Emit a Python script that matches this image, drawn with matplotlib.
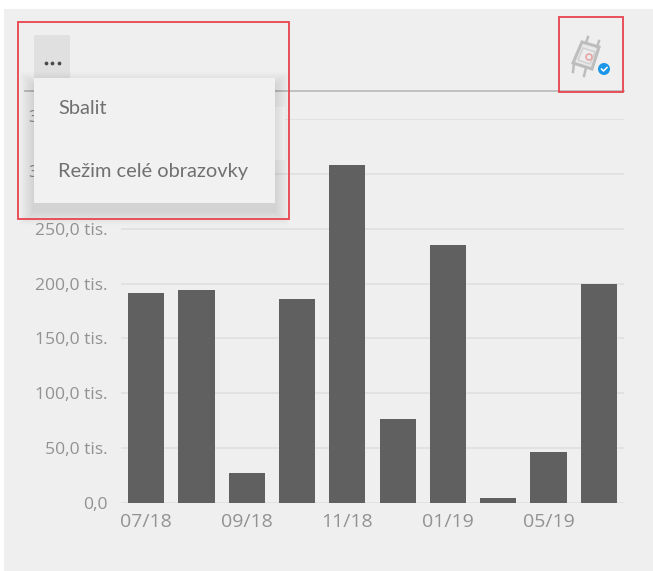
import matplotlib
matplotlib.use("Agg")
import matplotlib.pyplot as plt
from matplotlib.patches import Rectangle, Circle, Polygon
from matplotlib.lines import Line2D

months = ["07/18", "08/18", "09/18", "10/18", "11/18", "12/18", "01/19", "02/19", "05/19", "06/19"]
values = [191.5, 194, 27, 186, 308, 76.5, 235, 4.5, 46.5, 200]
tick_positions = [0, 2, 4, 6, 8]
tick_labels = ["07/18", "09/18", "11/18", "01/19", "05/19"]
y_ticks = [0, 50, 100, 150, 200, 250, 300, 350]
y_labels = ["0,0", "50,0 tis.", "100,0 tis.", "150,0 tis.", "200,0 tis.", "250,0 tis.", "", ""]
menu_items = ["Sbalit", "Režim celé obrazovky"]

W, H = 653, 571
plt.rcParams["font.family"] = ["Open Sans", "DejaVu Sans"]
fig = plt.figure(figsize=(W / 100, H / 100), dpi=100, facecolor="white")

ov = fig.add_axes([0, 0, 1, 1], zorder=0)
ov.set_xlim(0, W); ov.set_ylim(H, 0); ov.axis("off")
ov.add_patch(Rectangle((4, 9), W - 4, H - 9, fc="#efefef", ec="none"))

L, R, B, T = 121, 624, 503, 119
ax = fig.add_axes([L / W, 1 - B / H, (R - L) / W, (B - T) / H], zorder=1)
ax.patch.set_alpha(0)
x = list(range(len(months)))
ax.bar(x, values, width=0.72, color="#606060", zorder=3)
ax.set_xlim(-0.5, 9.5)
ax.set_ylim(0, 350)
ax.set_yticks(y_ticks, y_labels)
ax.set_xticks(tick_positions, tick_labels)
ax.tick_params(length=0, labelcolor="#929292")
ax.tick_params(axis="y", labelsize=12.6, pad=9.5)
ax.tick_params(axis="x", labelsize=14, pad=7)
ax.grid(axis="y", color="#e0e0e0", lw=1.2, zorder=0)
ax.set_axisbelow(True)
for s in ax.spines.values():
    s.set_visible(False)

top = fig.add_axes([0, 0, 1, 1], zorder=2)
top.set_xlim(0, W); top.set_ylim(H, 0); top.axis("off"); top.patch.set_alpha(0)
top.add_line(Line2D([25, 624], [91, 91], color="#c0c0c0", lw=1.4, zorder=1))
# clipped leading digits of the two tick labels that sit behind the menu
top.text(28.5, 118, "3", fontsize=12.6, color="#929292", va="center", zorder=1)
top.text(28.5, 173, "3", fontsize=12.6, color="#929292", va="center", zorder=1)
top.add_patch(Rectangle((270, 107), 15, 53, fc="#f7f7f7", ec="none", zorder=1))
top.add_patch(Rectangle((34, 35), 36, 44, fc="#e0e0e0", ec="none", zorder=2))
top.plot([45.5, 52, 58.5], [63, 63, 63], ls="none", marker="o", ms=1.7, color="#4a4a4a", zorder=3)
# soft shadow
for i in range(14, 0, -1):
    top.add_patch(Rectangle((34 - i, 78 - i + 8), 241 + 2 * i, 125 + 2 * i, fc="black", ec="none",
                            alpha=0.008, lw=0, zorder=4))
top.add_patch(Rectangle((34, 78), 241, 125, fc="#f1f1f1", ec="none", zorder=5))
top.text(58, 109, menu_items[0], fontsize=14.4, color="#707070", va="center", family=["Lato", "DejaVu Sans"], zorder=6)
top.text(58, 172, menu_items[1], fontsize=14.4, color="#707070", va="center", family=["Lato", "DejaVu Sans"], zorder=6)
top.add_patch(Rectangle((18, 22), 271, 197, fc="none", ec="#e8434e", lw=1.3, zorder=7))
top.add_patch(Rectangle((559, 17), 64, 75, fc="none", ec="#e8434e", lw=1.3, zorder=7))
# watch icon
gc = "#bdbdbd"
top.add_patch(Polygon([(582, 42), (599, 47), (592, 69), (573, 63)], closed=True, fc="#e8e8e8", ec=gc, lw=2.2, zorder=6))
top.add_patch(Polygon([(583, 48), (595, 52), (590, 64), (578, 60)], closed=True, fc="#ececec", ec="#cfcfcf", lw=1, zorder=6))
for xs, ys in [([586, 588], [43, 37]), ([597, 599], [47, 41]), ([574, 573], [63, 72]), ([586, 584], [68, 76])]:
    top.add_line(Line2D(xs, ys, color=gc, lw=1.8, zorder=6))
top.add_patch(Circle((589, 57), 3, fc="none", ec="#e8a5a5", lw=1.2, zorder=6))
top.add_patch(Circle((604, 69), 6, fc="#1c96e8", ec="none", zorder=6))
top.add_line(Line2D([601.5, 603.5, 607], [69, 71, 67.5], color="white", lw=1.1, zorder=7))

fig.savefig("out.png", dpi=100, facecolor="white")
